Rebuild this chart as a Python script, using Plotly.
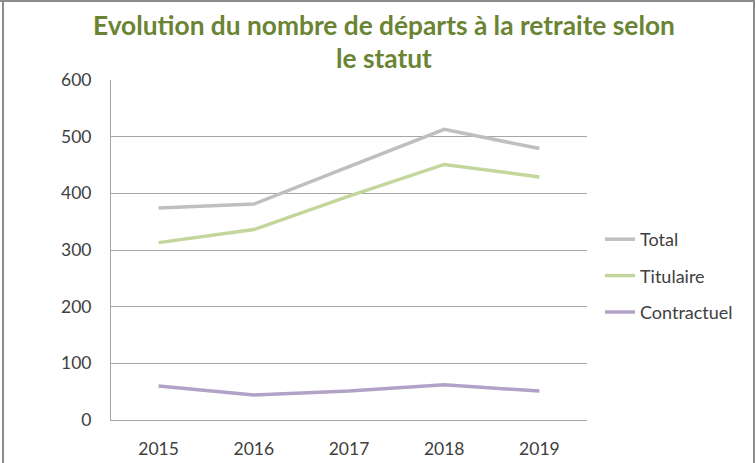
import plotly.graph_objects as go

years = ["2015", "2016", "2017", "2018", "2019"]
total = [374, 381, 447, 513, 479]
titulaire = [313, 336, 395, 451, 429]
contractuel = [60, 44, 51, 62, 51]
y_ticks = [0, 100, 200, 300, 400, 500, 600]
title_lines = ["Evolution du nombre de départs à la retraite selon", "le statut"]

W, H = 755, 463
L, R, T, B = 111, 168, 80, 43

fig = go.Figure()
series = [("Total", total, "#BFBFBF"), ("Titulaire", titulaire, "#C3D69B"), ("Contractuel", contractuel, "#B3A2C7")]
for i, (name, vals, col) in enumerate(series):
    fig.add_trace(go.Scatter(x=years, y=vals, name=name, mode="lines",
                             line=dict(color=col, width=3.5), legendgroup=str(i)))

pw = W - L - R
ph = H - T - B
def px(x):
    return (x - L) / pw
def py(y):
    return (H - B - y) / ph

fig.update_layout(
    width=W, height=H,
    margin=dict(l=L, r=R, t=T, b=B, autoexpand=False),
    paper_bgcolor="white", plot_bgcolor="white",
    font=dict(family="Lato, Liberation Sans, sans-serif", size=17.5, color="#404040"),
    xaxis=dict(type="category", range=[-0.5, 4.5], showgrid=False, showline=True, linecolor="#A6A6A6",
               linewidth=1, ticks="outside", ticklen=13, tickcolor="white", tickfont=dict(size=17.5),
               automargin=False),
    yaxis=dict(range=[0, 600], tickvals=y_ticks, showgrid=True, gridcolor="#A6A6A6", gridwidth=1,
               showline=True, linecolor="#A6A6A6", linewidth=1, zeroline=False,
               ticks="outside", ticklen=15, tickcolor="white", tickfont=dict(size=17.5),
               automargin=False),
    legend=dict(x=px(600), xanchor="left", y=py(221), yanchor="top", tracegroupgap=10,
                font=dict(size=18, color="#404040"), bgcolor="rgba(0,0,0,0)"),
    showlegend=True,
)

for txt, yc in zip(title_lines, [25, 58]):
    fig.add_annotation(text=txt, xref="paper", yref="paper", x=px(384), y=py(yc),
                       xanchor="center", yanchor="middle", showarrow=False,
                       font=dict(family="Lato, sans-serif", size=26.3, color="#6A8434", weight="bold"))

# figure frame (top, left, right)
fig.add_shape(type="line", xref="paper", yref="paper", x0=px(0), x1=px(W), y0=py(1), y1=py(1),
              line=dict(color="#8C8C8C", width=2), layer="above")
fig.add_shape(type="line", xref="paper", yref="paper", x0=px(3), x1=px(3), y0=py(0), y1=py(H),
              line=dict(color="#8C8C8C", width=2), layer="above")
fig.add_shape(type="line", xref="paper", yref="paper", x0=px(754), x1=px(754), y0=py(0), y1=py(H),
              line=dict(color="#8C8C8C", width=2), layer="above")

fig.write_html("out.html", config={"displayModeBar": False},
               post_script="document.body.style.margin='0';document.body.style.overflow='hidden';")
